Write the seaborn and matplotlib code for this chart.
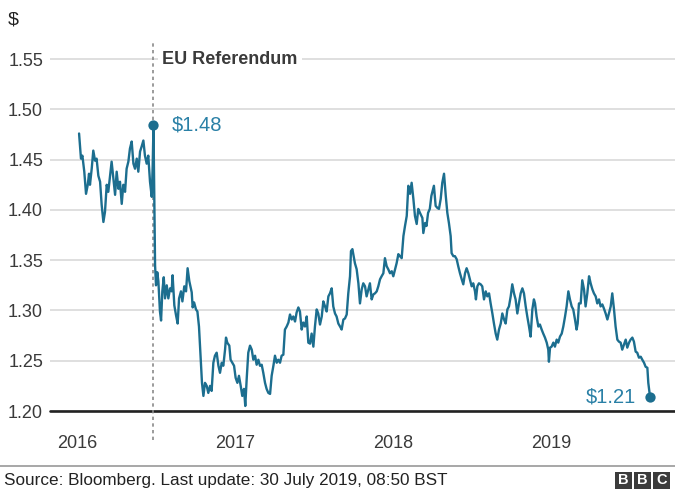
import matplotlib
matplotlib.use("Agg")
import matplotlib.pyplot as plt
from matplotlib.lines import Line2D
from matplotlib.patches import Rectangle
import pandas as pd
import seaborn as sns

# Pound-to-dollar rate, sampled roughly every four days (decimal years)
t_2016 = [2016.013, 2016.025, 2016.034, 2016.046, 2016.057, 2016.068, 2016.076, 2016.082,
          2016.093, 2016.103, 2016.114, 2016.124, 2016.135, 2016.146, 2016.156, 2016.167,
          2016.177, 2016.188, 2016.198, 2016.209, 2016.219, 2016.230, 2016.241, 2016.251,
          2016.262, 2016.272, 2016.283, 2016.293, 2016.304, 2016.314, 2016.325, 2016.335,
          2016.346, 2016.357, 2016.367, 2016.378, 2016.388, 2016.399, 2016.409, 2016.420,
          2016.430, 2016.441, 2016.451, 2016.462, 2016.473, 2016.479, 2016.484,
          2016.494, 2016.500, 2016.508, 2016.515, 2016.525, 2016.532, 2016.540, 2016.549,
          2016.557, 2016.568, 2016.578, 2016.589, 2016.599, 2016.605, 2016.616, 2016.627,
          2016.637, 2016.646, 2016.658, 2016.667, 2016.679, 2016.690, 2016.700, 2016.711,
          2016.726, 2016.732, 2016.741, 2016.753, 2016.762, 2016.772, 2016.783, 2016.791,
          2016.800, 2016.810, 2016.821, 2016.831, 2016.842, 2016.852, 2016.863, 2016.873,
          2016.884, 2016.895, 2016.905, 2016.916, 2016.926, 2016.937, 2016.943, 2016.951,
          2016.964, 2016.972, 2016.983, 2016.994]
rate_2016 = [1.476, 1.451, 1.454, 1.438, 1.416, 1.425, 1.436, 1.425,
             1.441, 1.459, 1.449, 1.451, 1.434, 1.428, 1.405, 1.388,
             1.398, 1.425, 1.418, 1.434, 1.448, 1.431, 1.415, 1.438,
             1.421, 1.428, 1.406, 1.425, 1.418, 1.441, 1.448, 1.461,
             1.468, 1.446, 1.441, 1.451, 1.438, 1.458, 1.463, 1.469,
             1.454, 1.446, 1.454, 1.428, 1.413, 1.444, 1.484,
             1.345, 1.325, 1.338, 1.329, 1.299, 1.290, 1.319, 1.333,
             1.312, 1.325, 1.312, 1.322, 1.319, 1.335, 1.305, 1.295,
             1.287, 1.312, 1.319, 1.309, 1.324, 1.319, 1.342, 1.329,
             1.318, 1.303, 1.308, 1.301, 1.299, 1.284, 1.251, 1.228,
             1.215, 1.228, 1.225, 1.218, 1.225, 1.220, 1.248, 1.255,
             1.258, 1.245, 1.238, 1.248, 1.245, 1.261, 1.273, 1.268,
             1.265, 1.251, 1.248, 1.245]

t_2017 = [2017.004, 2017.015, 2017.025, 2017.036, 2017.046, 2017.057, 2017.065, 2017.074,
          2017.084, 2017.095, 2017.106, 2017.116, 2017.127, 2017.137, 2017.148, 2017.158,
          2017.169, 2017.179, 2017.190, 2017.200, 2017.211, 2017.222, 2017.232, 2017.243,
          2017.253, 2017.264, 2017.274, 2017.285, 2017.295, 2017.306, 2017.316, 2017.327,
          2017.338, 2017.348, 2017.359, 2017.369, 2017.380, 2017.390, 2017.401, 2017.411,
          2017.422, 2017.432, 2017.443, 2017.454, 2017.464, 2017.475, 2017.485, 2017.496,
          2017.506, 2017.517, 2017.527, 2017.538, 2017.549, 2017.559, 2017.570, 2017.580,
          2017.591, 2017.601, 2017.612, 2017.622, 2017.633, 2017.643, 2017.654, 2017.665,
          2017.675, 2017.686, 2017.696, 2017.707, 2017.717, 2017.728, 2017.734, 2017.743,
          2017.751, 2017.759, 2017.770, 2017.781, 2017.791, 2017.802, 2017.812, 2017.823,
          2017.833, 2017.844, 2017.854, 2017.865, 2017.876, 2017.886, 2017.897, 2017.907,
          2017.918, 2017.928, 2017.939, 2017.949, 2017.960, 2017.970, 2017.981, 2017.992]
rate_2017 = [1.233, 1.228, 1.235, 1.225, 1.215, 1.222, 1.205, 1.232,
             1.258, 1.265, 1.261, 1.251, 1.255, 1.246, 1.251, 1.245,
             1.246, 1.238, 1.228, 1.222, 1.218, 1.217, 1.235, 1.245,
             1.255, 1.248, 1.251, 1.248, 1.255, 1.256, 1.281, 1.284,
             1.288, 1.296, 1.291, 1.294, 1.289, 1.298, 1.303, 1.299,
             1.281, 1.288, 1.284, 1.294, 1.268, 1.267, 1.277, 1.264,
             1.284, 1.301, 1.297, 1.286, 1.294, 1.309, 1.304, 1.299,
             1.314, 1.317, 1.322, 1.304, 1.297, 1.294, 1.287, 1.284,
             1.281, 1.291, 1.292, 1.296, 1.317, 1.334, 1.359, 1.361,
             1.354, 1.347, 1.341, 1.327, 1.307, 1.321, 1.327, 1.324,
             1.314, 1.321, 1.327, 1.311, 1.316, 1.317, 1.319, 1.324,
             1.331, 1.334, 1.337, 1.352, 1.344, 1.341, 1.337, 1.339]

t_2018 = [2018.002, 2018.013, 2018.023, 2018.034, 2018.044, 2018.055, 2018.066, 2018.076,
          2018.087, 2018.097, 2018.108, 2018.118, 2018.129, 2018.139, 2018.150, 2018.160,
          2018.171, 2018.186, 2018.192, 2018.203, 2018.212, 2018.222, 2018.233, 2018.243,
          2018.259, 2018.270, 2018.281, 2018.291, 2018.302, 2018.312, 2018.323, 2018.334,
          2018.344, 2018.354, 2018.365, 2018.371, 2018.382, 2018.392, 2018.403, 2018.413,
          2018.424, 2018.435, 2018.445, 2018.456, 2018.466, 2018.477, 2018.487, 2018.498,
          2018.508, 2018.519, 2018.525, 2018.534, 2018.544, 2018.555, 2018.565, 2018.576,
          2018.587, 2018.597, 2018.608, 2018.618, 2018.629, 2018.639, 2018.650, 2018.660,
          2018.671, 2018.682, 2018.692, 2018.703, 2018.713, 2018.724, 2018.734, 2018.745,
          2018.755, 2018.766, 2018.776, 2018.787, 2018.797, 2018.808, 2018.819, 2018.829,
          2018.840, 2018.850, 2018.861, 2018.871, 2018.882, 2018.892, 2018.899, 2018.909,
          2018.920, 2018.930, 2018.941, 2018.951, 2018.962, 2018.973, 2018.983, 2018.987,
          2018.994]
rate_2018 = [1.334, 1.341, 1.347, 1.356, 1.354, 1.352, 1.374, 1.384,
             1.394, 1.424, 1.416, 1.427, 1.411, 1.394, 1.386, 1.401,
             1.397, 1.392, 1.377, 1.387, 1.384, 1.397, 1.401, 1.414,
             1.424, 1.404, 1.402, 1.401, 1.411, 1.427, 1.436, 1.414,
             1.397, 1.387, 1.374, 1.357, 1.354, 1.354, 1.351, 1.344,
             1.337, 1.331, 1.326, 1.337, 1.342, 1.337, 1.331, 1.324,
             1.327, 1.319, 1.311, 1.324, 1.327, 1.326, 1.324, 1.311,
             1.319, 1.314, 1.317, 1.307, 1.297, 1.287, 1.277, 1.271,
             1.281, 1.287, 1.297, 1.291, 1.287, 1.301, 1.304, 1.314,
             1.326, 1.317, 1.311, 1.297, 1.307, 1.317, 1.322, 1.317,
             1.304, 1.294, 1.284, 1.274, 1.301, 1.311, 1.307, 1.294,
             1.284, 1.286, 1.281, 1.277, 1.273, 1.268, 1.261, 1.249,
             1.263]

t_2019 = [2019.004, 2019.015, 2019.025, 2019.036, 2019.046, 2019.057, 2019.068, 2019.078,
          2019.089, 2019.099, 2019.110, 2019.120, 2019.131, 2019.141, 2019.152, 2019.162,
          2019.169, 2019.177, 2019.188, 2019.198, 2019.209, 2019.219, 2019.230, 2019.241,
          2019.251, 2019.262, 2019.272, 2019.283, 2019.293, 2019.304, 2019.314, 2019.325,
          2019.335, 2019.346, 2019.357, 2019.367, 2019.378, 2019.388, 2019.399, 2019.409,
          2019.420, 2019.430, 2019.441, 2019.451, 2019.462, 2019.473, 2019.483, 2019.494,
          2019.504, 2019.515, 2019.525, 2019.536, 2019.546, 2019.557, 2019.568, 2019.578,
          2019.589, 2019.599, 2019.610, 2019.616, 2019.627]
rate_2019 = [1.264, 1.268, 1.264, 1.271, 1.268, 1.274, 1.277, 1.284,
             1.294, 1.304, 1.319, 1.311, 1.304, 1.301, 1.291, 1.281,
             1.287, 1.307, 1.307, 1.330, 1.321, 1.304, 1.317, 1.334,
             1.327, 1.321, 1.317, 1.314, 1.307, 1.311, 1.304, 1.306,
             1.302, 1.297, 1.291, 1.297, 1.304, 1.317, 1.301, 1.284,
             1.271, 1.269, 1.268, 1.261, 1.266, 1.271, 1.263, 1.268,
             1.271, 1.273, 1.269, 1.259, 1.258, 1.253, 1.254, 1.251,
             1.248, 1.244, 1.243, 1.228, 1.214]

referendum_t = 2016.478
year_ticks = [2016, 2017, 2018, 2019]
year_labels = ["2016", "2017", "2018", "2019"]
rate_ticks = [1.20, 1.25, 1.30, 1.35, 1.40, 1.45, 1.50, 1.55]

LINE = "#1c6e8f"
LABEL = "#2a80a6"
TEXT = "#3a3a3a"

df = pd.DataFrame({
    "year": t_2016 + t_2017 + t_2018 + t_2019,
    "rate": rate_2016 + rate_2017 + rate_2018 + rate_2019,
})

sns.set_theme(style="white")
plt.rcParams["font.family"] = ["Liberation Sans", "DejaVu Sans"]

W, H = 675, 493
fig = plt.figure(figsize=(W / 100, H / 100), dpi=100)
ax = fig.add_axes([50 / W, 1 - 411 / H, 625 / W, (411 - 42) / H])

ax.set_xlim(2015.829, 2019.785)
ax.set_ylim(1.20, 1.567)
ax.set_axisbelow(True)
ax.yaxis.grid(True, color="#dcdcdc", linewidth=1.3)
ax.xaxis.grid(False)
for s in ax.spines.values():
    s.set_visible(False)

sns.lineplot(data=df, x="year", y="rate", ax=ax, color=LINE, linewidth=1.7,
             estimator=None, sort=False, zorder=3)
ax.set_xlabel("")
ax.set_ylabel("")

# baseline at the bottom of the scale
ax.axhline(1.20, color="#222222", linewidth=1.9, zorder=2, clip_on=False)

ax.set_yticks(rate_ticks)
ax.set_yticklabels([f"{v:.2f}" for v in rate_ticks])
ax.set_xticks(year_ticks)
ax.set_xticklabels(year_labels)
ax.tick_params(axis="y", length=0, pad=5, labelsize=13, labelcolor=TEXT)
ax.tick_params(axis="x", length=0, pad=17, labelsize=13, labelcolor=TEXT)

# referendum marker
ax.axvline(referendum_t, ymin=-0.0786, ymax=1.0, color="#8a8a8a", linewidth=1.2,
           linestyle=(0, (2, 2)), clip_on=False, zorder=2)
ax.annotate("EU Referendum", xy=(referendum_t, 1.55), xytext=(7, 0),
            textcoords="offset points", ha="left", va="center",
            fontsize=13, fontweight="bold", color=TEXT,
            bbox=dict(boxstyle="square,pad=0.25", fc="white", ec="none"), zorder=4)

# highlighted points
peak = df.loc[df["rate"].idxmax()]
last = df.iloc[-1]
ax.scatter([peak["year"], last["year"]], [peak["rate"], last["rate"]],
           s=55, color=LINE, zorder=5, clip_on=False, linewidths=0)
ax.annotate(f"${peak['rate']:.2f}", xy=(peak["year"], peak["rate"]), xytext=(13, 0),
            textcoords="offset points", ha="left", va="center",
            fontsize=14.5, color=LABEL)
ax.annotate(f"${last['rate']:.2f}", xy=(last["year"], last["rate"]), xytext=(-10, 0),
            textcoords="offset points", ha="right", va="center",
            fontsize=14.5, color=LABEL)

fig.text(8 / W, 1 - 20 / H, "$", fontsize=14, color="#222222", va="center", ha="left")

# footer
fig.add_artist(Line2D([0, 1], [1 - 466 / H] * 2, color="#a0a0a0", linewidth=1.3))
fig.text(4 / W, 1 - 481 / H, "Source: Bloomberg. Last update: 30 July 2019, 08:50 BST",
         fontsize=12.3, color="#222222", va="center", ha="left")
for i, letter in enumerate("BBC"):
    x0 = 615 + i * 19
    fig.add_artist(Rectangle((x0 / W, 1 - 489 / H), 17 / W, 17 / H,
                             transform=fig.transFigure, facecolor="#3c3c3c",
                             edgecolor="none"))
    fig.text((x0 + 8.5) / W, 1 - 480.5 / H, letter, fontsize=10.5, fontweight="bold",
             color="white", ha="center", va="center")

fig.savefig("out.png", dpi=100)
